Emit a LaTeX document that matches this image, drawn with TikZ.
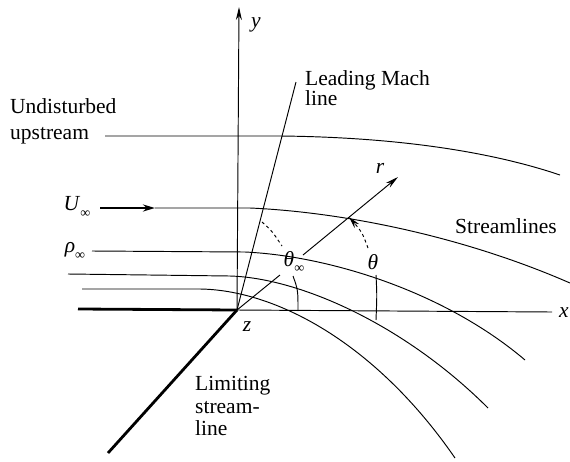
\documentclass[tikz,border=0pt]{standalone}
\usepackage{fontspec}
\setmainfont{Liberation Serif}
\usetikzlibrary{arrows.meta}
\newcommand{\infsub}[1]{\textit{#1}\raisebox{-0.3em}{\fontsize{14}{14}\selectfont ∞}}
\begin{document}
\begin{tikzpicture}[x=1pt,y=-1pt,
  thinline/.style={line width=0.95pt},
  thickline/.style={line width=2.8pt},
  lab/.style={inner sep=0pt,font=\fontsize{21.5}{25}\selectfont},
  txt/.style={lab,anchor=base west},
  bigtip/.style={-{Stealth[length=13pt,width=6pt]}},
  smalltip/.style={-{Stealth[length=12pt,width=6pt]}},
  ]
\useasboundingbox (0,0) rectangle (570,461);
% key points
\coordinate (O) at (237,310);
\coordinate (ytop) at (239,7);
\coordinate (xend) at (552,312);
\coordinate (platel) at (78,309);
\coordinate (limend) at (108,453);
\coordinate (machtop) at (296,82);
\coordinate (rtip) at (398,177);
\coordinate (rmark) at (349,217);
% labels
\node[txt] (und) at (10,113) {Undisturbed};
\node[txt] (ups) at (10,139) {upstream};
\node[txt] (lm1) at (305,85) {Leading Mach};
\node[txt] (lm2) at (305,105) {line};
\node[txt] (stl) at (455,233) {Streamlines};
\node[txt] (li1) at (195,390) {Limiting};
\node[txt] (li2) at (195,413) {stream-};
\node[txt] (li3) at (195,435) {line};
\node[lab] (ylab) at (256,25) {\textit{y}};
\node[lab] (xlab) at (564,313) {\textit{x}};
\node[lab] (zlab) at (247,327) {\textit{z}};
\node[lab] (rlab) at (380,168) {\textit{r}};
\node[lab] (thlab) at (373,262) {\textit{θ}};
\node[lab] (thilab) at (294,262) {\infsub{θ}};
\node[lab] (ulab) at (77,207) {\infsub{U}};
\node[lab] (rholab) at (75,251) {\infsub{ρ}};
% axes
\draw[thinline,bigtip] (O) -- (ytop);
\draw[thinline] (O) -- (xend);
\draw[thickline] (platel) -- (O);
\draw[thickline] (O) -- (limend);
\draw[thinline] (O) -- (machtop);
\draw[thinline] (O) -- (280,275);
\draw[thinline,bigtip] (303,255) -- (rtip);
% streamlines
\coordinate (s1a) at (105,136);
\draw[thinline] (s1a) -- (280,136) .. controls (380,137) and (480,148) .. (560,175);
\coordinate (s2a) at (100,208);
\coordinate (s2b) at (155,208);
\draw[thickline,-{Stealth[length=12pt,width=7pt]}] (s2a) -- (s2b);
\draw[thinline] (s2b) -- (250,208) .. controls (340,212) and (460,235) .. (570,283);
\coordinate (s3a) at (92,251);
\draw[thinline] (s3a) -- (245,252) .. controls (330,256) and (445,292) .. (525,360);
\coordinate (s4a) at (68,274);
\draw[thinline] (s4a) -- (230,276) .. controls (300,278) and (405,325) .. (488,408);
\coordinate (s5a) at (82,289);
\draw[thinline] (s5a) -- (200,289) .. controls (275,290) and (375,342) .. (455,458);
% theta_inf arc
\draw[thinline,dashed] (262,222) .. controls (272,231) .. (282,246);
\draw[thinline] (293,276) .. controls (298,290) .. (298,311);
% theta arc
\draw[thinline] (376,275) .. controls (377,295) .. (376,320);
\draw[thinline,dashed,smalltip] (368,248) .. controls (362,232) .. (rmark);
\end{tikzpicture}
\end{document}
